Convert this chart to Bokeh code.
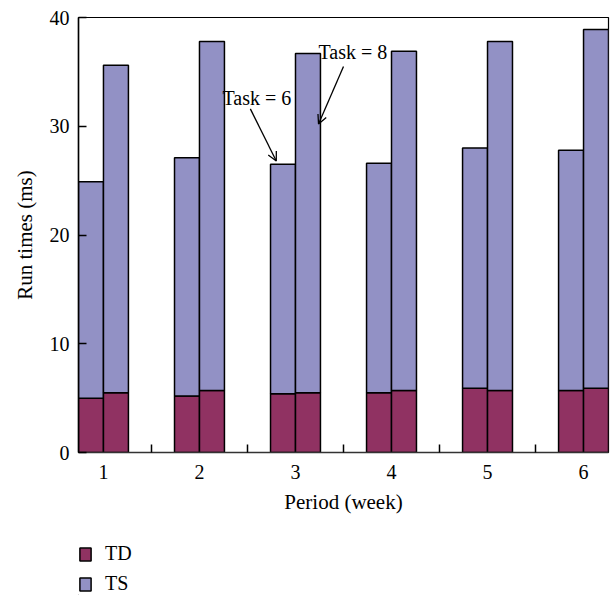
from bokeh.plotting import figure
from bokeh.layouts import column
from bokeh.models import (Range1d, FixedTicker, Legend, LegendItem, Label,
                          Arrow, OpenHead, ColumnDataSource)
from bokeh.embed import file_html
from bokeh.resources import INLINE

# Run times per week for two task settings (Task = 6, Task = 8)
periods = [1, 2, 3, 4, 5, 6]
td_task6 = [5.0, 5.2, 5.4, 5.5, 5.9, 5.7]
total_task6 = [24.9, 27.1, 26.5, 26.6, 28.0, 27.8]
td_task8 = [5.5, 5.7, 5.5, 5.7, 5.7, 5.9]
total_task8 = [35.6, 37.8, 36.7, 36.9, 37.8, 38.9]

series_names = ["TD", "TS"]
colors = {"TD": "#903262", "TS": "#9291c5"}
FONT = "Liberation Serif"
INK = "black"

bar_w = 0.26
offset = bar_w / 2

p = figure(width=612, height=534, output_backend="svg", toolbar_location=None,
           x_range=Range1d(1 - bar_w, 6 + bar_w), y_range=Range1d(0, 40),
           min_border_left=78, min_border_top=17, min_border_right=4,
           min_border_bottom=82)

for xs_shift, td, total in ((-offset, td_task6, total_task6),
                            (offset, td_task8, total_task8)):
    src = ColumnDataSource(dict(
        x=[pp + xs_shift for pp in periods],
        td=td,
        total=total,
        zero=[0] * len(periods),
    ))
    p.vbar(x="x", bottom="zero", top="td", width=bar_w, source=src,
           fill_color=colors["TD"], line_color="black", line_width=1.5)
    p.vbar(x="x", bottom="td", top="total", width=bar_w, source=src,
           fill_color=colors["TS"], line_color="black", line_width=1.5)

# Axes
p.xgrid.visible = False
p.ygrid.visible = False
p.outline_line_color = "black"
p.outline_line_width = 1.2

xa = p.xaxis[0]
xa.ticker = FixedTicker(ticks=periods,
                        minor_ticks=[pp + 0.5 for pp in periods[:-1]])
xa.major_tick_line_color = None
xa.minor_tick_in = 8
xa.minor_tick_out = 0
xa.minor_tick_line_color = "black"
xa.minor_tick_line_width = 1.5
xa.axis_line_color = "#333333"
xa.axis_line_width = 1.5
xa.major_label_text_font = FONT
xa.major_label_text_font_size = "20px"
xa.major_label_text_color = INK
xa.major_label_standoff = 6
xa.axis_label = "Period (week)"
xa.axis_label_text_font = FONT
xa.axis_label_text_font_size = "21px"
xa.axis_label_text_font_style = "normal"
xa.axis_label_text_color = INK
xa.axis_label_standoff = 8

ya = p.yaxis[0]
ya.ticker = FixedTicker(ticks=[0, 10, 20, 30, 40], minor_ticks=[])
ya.major_tick_in = 8
ya.major_tick_out = 0
ya.major_tick_line_width = 1.5
ya.axis_line_width = 1.5
ya.major_label_text_font = FONT
ya.major_label_text_font_size = "20px"
ya.major_label_text_color = INK
ya.major_label_standoff = 9
ya.axis_label = "Run times (ms)"
ya.axis_label_text_font = FONT
ya.axis_label_text_font_size = "21px"
ya.axis_label_text_font_style = "normal"
ya.axis_label_text_color = INK
ya.axis_label_standoff = 10

# Task annotations with arrows
p.add_layout(Label(x=2.24, y=32.6, text="Task = 6", text_font=FONT,
                   text_font_size="20px", text_color=INK,
                   text_baseline="middle"))
p.add_layout(Arrow(x_start=2.53, y_start=31.6, x_end=2.80, y_end=26.8,
                   line_width=1.3, end=OpenHead(size=9, line_width=1.3)))
p.add_layout(Label(x=3.24, y=36.8, text="Task = 8", text_font=FONT,
                   text_font_size="20px", text_color=INK,
                   text_baseline="middle"))
p.add_layout(Arrow(x_start=3.50, y_start=35.5, x_end=3.24, y_end=30.2,
                   line_width=1.3, end=OpenHead(size=9, line_width=1.3)))

# Legend strip below the chart; its key renderers lie far outside the
# strip's visible ranges so only the legend swatches show.
leg = figure(width=612, height=61, output_backend="svg", toolbar_location=None,
             x_range=Range1d(0, 1), y_range=Range1d(100, 101),
             min_border_left=0, min_border_right=0, min_border_top=0,
             min_border_bottom=0)
leg.axis.visible = False
leg.grid.visible = False
leg.outline_line_color = None

legend_renderers = [leg.vbar(x=[-50], bottom=[-50], top=[-49], width=0.1,
                             fill_color=colors[name], line_color="black",
                             line_width=1.5)
                    for name in series_names]
legend = Legend(items=[LegendItem(label=name, renderers=[r])
                       for name, r in zip(series_names, legend_renderers)],
                location=(0, 0), orientation="vertical",
                label_text_font=FONT, label_text_font_size="20px",
                label_text_color=INK,
                glyph_width=14, glyph_height=16, label_height=16,
                spacing=7, padding=0, margin=0, label_standoff=13,
                border_line_color=None, background_fill_alpha=0)
leg.add_layout(legend, "center")

layout = column(p, leg, spacing=0)
open("out.html", "w").write(file_html(layout, INLINE))
